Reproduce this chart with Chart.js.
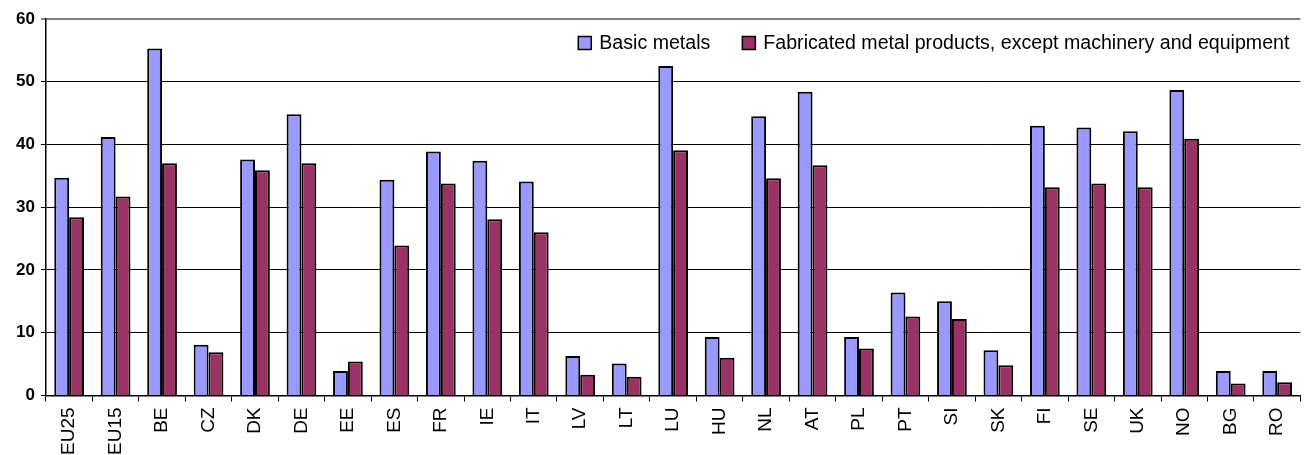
<!DOCTYPE html>
<html>
<head>
<meta charset="utf-8">
<script src="https://cdn.jsdelivr.net/npm/chart.js@4/dist/chart.umd.min.js"></script>
<style>
  html, body { margin: 0; padding: 0; background: #fff; overflow: hidden; }
  #wrap { width: 1306px; height: 461px; }
</style>
</head>
<body>
<div id="wrap"><canvas id="chart" width="1306" height="461"></canvas></div>
<script>
( function () {
	'use strict';

	var countries = [ 'EU25', 'EU15', 'BE', 'CZ', 'DK', 'DE', 'EE', 'ES', 'FR', 'IE', 'IT', 'LV', 'LT', 'LU',
		'HU', 'NL', 'AT', 'PL', 'PT', 'SI', 'SK', 'FI', 'SE', 'UK', 'NO', 'BG', 'RO' ];
	var basicMetals = [ 34.7, 41.2, 55.3, 8.1, 37.6, 44.8, 3.9, 34.4, 38.9, 37.4, 34.1, 6.3, 5.1, 52.5,
		9.3, 44.5, 48.4, 9.3, 16.4, 15.0, 7.2, 43.0, 42.7, 42.1, 48.7, 3.9, 3.9 ];
	var fabricated = [ 28.4, 31.7, 37.0, 6.9, 35.9, 37.0, 5.4, 23.9, 33.8, 28.1, 26.0, 3.3, 3.0, 39.1,
		6.0, 34.6, 36.7, 7.5, 12.6, 12.2, 4.8, 33.2, 33.8, 33.2, 40.9, 1.9, 2.1 ];
	var yTicks = [ 0, 10, 20, 30, 40, 50, 60 ];

	var font = 'Arial, "Liberation Sans", sans-serif';

	// legend drawn inside the plot, top right, like the original
	var insideLegend = {
		id: 'insideLegend',
		afterDraw: function ( chart ) {
			var c = chart.ctx;
			var area = chart.chartArea;
			var sets = chart.data.datasets;
			var box = 13, gap = 8, itemGap = 32;
			c.save();
			c.font = '19.6px ' + font;
			c.textBaseline = 'middle';
			var widths = sets.map( function ( d ) { return c.measureText( d.label ).width; } );
			var total = 0;
			widths.forEach( function ( w, i ) { total += box + gap + w + ( i ? itemGap : 0 ); } );
			var x = area.right - 11 - total;
			var y = area.top + 24;
			sets.forEach( function ( d, i ) {
				c.fillStyle = d.backgroundColor;
				c.fillRect( x, y - box / 2, box, box );
				c.strokeStyle = '#000';
				c.lineWidth = 1.5;
				c.strokeRect( x, y - box / 2, box, box );
				c.fillStyle = '#000';
				c.fillText( d.label, x + box + gap, y + 1 );
				x += box + gap + widths[ i ] + itemGap;
			} );
			c.restore();
		},
	};

	new Chart( document.getElementById( 'chart' ).getContext( '2d' ), {
		type: 'bar',
		data: {
			labels: countries,
			datasets: [ {
				label: 'Basic metals',
				data: basicMetals,
				backgroundColor: '#9999ff',
				borderColor: '#000',
				borderWidth: 2,
			}, {
				label: 'Fabricated metal products, except machinery and equipment',
				data: fabricated,
				backgroundColor: '#993366',
				borderColor: '#000',
				borderWidth: 2,
			} ],
		},
		options: {
			responsive: false,
			animation: false,
			layout: { padding: { top: 19, right: 2, left: 10 } },
			datasets: { bar: { categoryPercentage: 0.64, barPercentage: 1 } },
			plugins: {
				tooltip: { enabled: false },
				legend: { display: false },
			},
			scales: {
				x: {
					grid: { drawOnChartArea: false, color: '#000', tickLength: 6, offset: true },
					border: { color: '#000', width: 1.5 },
					ticks: {
						color: '#000',
						minRotation: 90,
						maxRotation: 90,
						autoSkip: false,
						padding: 6,
						font: { family: font, size: 19 },
					},
				},
				y: {
					min: 0,
					max: 60,
					afterBuildTicks: function ( axis ) {
						axis.ticks = yTicks.map( function ( v ) { return { value: v }; } );
					},
					grid: {
						color: function ( ctx ) { return ctx.tick && ctx.tick.value === 60 ? '#808080' : '#000'; },
						lineWidth: function ( ctx ) { return ctx.tick && ctx.tick.value === 60 ? 2 : 1; },
						tickLength: 5,
					},
					border: { color: '#000', width: 1.5 },
					ticks: {
						color: '#000',
						padding: 6,
						font: { family: font, size: 17, weight: 'bold' },
					},
				},
			},
		},
		plugins: [ insideLegend ],
	} );
} )();
</script>
</body>
</html>
